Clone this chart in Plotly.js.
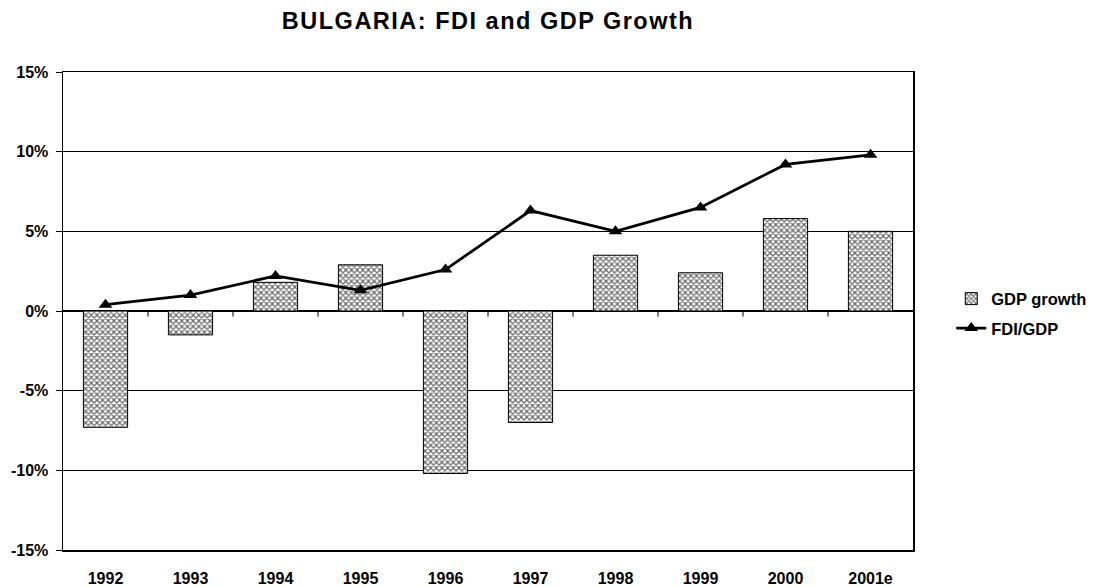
<!DOCTYPE html>
<html>
<head>
<meta charset="utf-8">
<script src="https://cdn.plot.ly/plotly-3.0.1.min.js"></script>
<style>
html,body{margin:0;padding:0;background:#fff;}
#chart{width:1104px;height:587px;}
#chart .gtitle{letter-spacing:1.5px;}
</style>
</head>
<body>
<div id="chart"></div>
<script>
const years = ["1992","1993","1994","1995","1996","1997","1998","1999","2000","2001e"];
const gdpGrowth = [-7.3, -1.5, 1.8, 2.9, -10.2, -7.0, 3.5, 2.4, 5.8, 5.0];
const fdiGdp = [0.4, 1.0, 2.2, 1.3, 2.6, 6.3, 5.0, 6.5, 9.2, 9.8];
const yTickVals = [-15, -10, -5, 0, 5, 10, 15];
const yTickText = ["-15%", "-10%", "-5%", "0%", "5%", "10%", "15%"];

const font = {family: "Liberation Sans, Arial, sans-serif", color: "#000"};

const traces = [
  {
    type: "bar", name: "<b>GDP growth</b>", x: years, y: gdpGrowth,
    legendgroup: "a",
    marker: {
      color: "#ffffff",
      line: {color: "#000", width: 1},
      pattern: {shape: "x", fgcolor: "#666666", bgcolor: "#ffffff", size: 4, solidity: 0.5}
    },
    hoverinfo: "x+y"
  },
  {
    type: "scatter", mode: "lines+markers", name: "<b>FDI/GDP</b>", x: years, y: fdiGdp,
    legendgroup: "b",
    line: {color: "#000", width: 2.8},
    marker: {symbol: "triangle-up", size: 12, color: "#000"}
  }
];

// small tick marks on the zero line between categories
const shapes = [];
for (let i = 0; i < years.length - 1; i++) {
  shapes.push({type: "line", xref: "x", yref: "y", x0: i + 0.5, x1: i + 0.5, y0: 0, y1: -0.35,
    line: {color: "#000", width: 1}});
}

const layout = {
  width: 1104, height: 587,
  margin: {l: 63, r: 189, t: 72, b: 37},
  paper_bgcolor: "#fff", plot_bgcolor: "#fff",
  font: font,
  title: {text: "<b>BULGARIA: FDI and GDP Growth</b>", font: {family: font.family, size: 23.5, color: "#000"},
    xref: "paper", x: 0.5, xanchor: "center", yref: "container", y: 0.964, yanchor: "middle"},
  bargap: 0.48,
  showlegend: true,
  legend: {x: 1.045, xanchor: "left", y: 0.495, yanchor: "middle",
    font: {family: font.family, size: 16.5, color: "#000"},
    traceorder: "grouped", tracegroupgap: 5, bgcolor: "rgba(0,0,0,0)", itemwidth: 30},
  xaxis: {
    type: "category", showgrid: false, zeroline: false,
    showline: true, linecolor: "#000", linewidth: 1.5, mirror: true,
    ticks: "outside", ticklen: 13, tickcolor: "rgba(0,0,0,0)",
    tickfont: {family: font.family, size: 16, color: "#000", weight: "bold"},
    range: [-0.5, 9.5], fixedrange: true
  },
  yaxis: {
    range: [-15, 15], tickvals: yTickVals, ticktext: yTickText,
    showgrid: true, gridcolor: "#000", gridwidth: 1,
    zeroline: true, zerolinecolor: "#000", zerolinewidth: 1.5,
    showline: true, linecolor: "#000", linewidth: 1.5, mirror: true,
    ticks: "outside", ticklen: 6, tickcolor: "#000", ticklabelstandoff: 4,
    tickfont: {family: font.family, size: 16, color: "#000", weight: "bold"},
    fixedrange: true
  },
  shapes: shapes
};

Plotly.newPlot("chart", traces, layout, {displayModeBar: false, staticPlot: true});
</script>
</body>
</html>
